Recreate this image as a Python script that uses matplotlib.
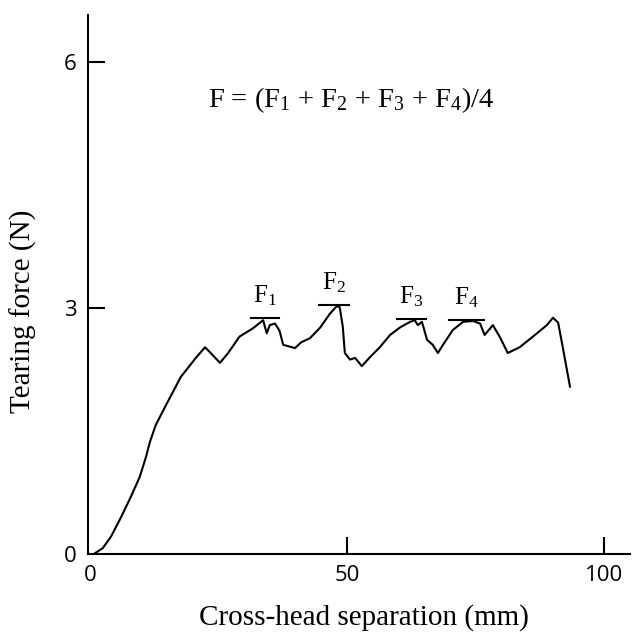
import matplotlib
matplotlib.use("Agg")
import matplotlib.pyplot as plt

# Tearing curve
sep = [0.7, 2.4, 4.0, 5.9, 7.9, 9.6, 10.8, 11.6, 12.7, 14.5, 16.1, 17.6,
       19.0, 20.5, 22.3, 23.4, 25.2, 26.8, 29.0, 31.6, 33.6, 34.3, 34.9,
       35.9, 36.8, 37.5, 39.8, 41.0, 42.7, 44.7, 46.6, 47.9, 48.5, 49.1,
       49.5, 50.5, 51.5, 52.8, 54.4, 56.3, 58.3, 60.2, 62.2, 63.1, 63.7,
       64.5, 65.5, 66.6, 67.6, 68.6, 70.5, 72.5, 74.4, 75.8, 76.7, 78.3,
       79.7, 81.2, 83.5, 86.1, 88.8, 90.0, 91.0, 91.9, 93.3]
force = [0.0, 0.07, 0.21, 0.44, 0.70, 0.94, 1.18, 1.37, 1.57, 1.79, 1.98,
         2.16, 2.27, 2.39, 2.52, 2.45, 2.33, 2.45, 2.65, 2.75, 2.85, 2.69,
         2.79, 2.81, 2.72, 2.55, 2.51, 2.58, 2.63, 2.76, 2.93, 3.02, 3.01,
         2.77, 2.45, 2.37, 2.39, 2.29, 2.40, 2.52, 2.67, 2.76, 2.83, 2.85,
         2.79, 2.83, 2.61, 2.55, 2.45, 2.55, 2.73, 2.83, 2.84, 2.81, 2.67,
         2.79, 2.64, 2.45, 2.52, 2.65, 2.79, 2.88, 2.82, 2.52, 2.04]

# Peak markers F1..F4
peak_labels = ["F$_1$", "F$_2$", "F$_3$", "F$_4$"]
peak_level = [2.88, 3.04, 2.87, 2.85]
peak_start = [31.2, 44.5, 59.6, 69.7]
peak_end = [36.7, 50.3, 65.3, 76.6]

xticks = [0, 50, 100]
yticks = [0, 3, 6]

plt.rcParams["mathtext.fontset"] = "custom"
plt.rcParams["mathtext.rm"] = "Liberation Serif"
plt.rcParams["mathtext.it"] = "Liberation Serif"

fig = plt.figure(figsize=(6.32, 6.33), dpi=100)
ax = fig.add_axes([0.139, 0.125, 0.858, 0.851])

ax.plot(sep, force, color="black", linewidth=1.5)

for lab, lev, x0, x1 in zip(peak_labels, peak_level, peak_start, peak_end):
    ax.plot([x0, x1], [lev, lev], color="black", linewidth=1.5)
    ax.text((x0 + x1) / 2, lev + 0.12, lab, ha="center", va="bottom",
            fontsize=18, family="Liberation Serif")

ax.text(22.8, 5.54, "F = (F$_1$ + F$_2$ + F$_3$ + F$_4$)/4", ha="left",
        va="center", fontsize=20.5, family="Liberation Serif")

ax.set_xlim(-0.5, 105)
ax.set_ylim(0, 6.57)
ax.set_xticks(xticks)
ax.set_yticks(yticks)

for side in ["top", "right"]:
    ax.spines[side].set_visible(False)
for side in ["left", "bottom"]:
    ax.spines[side].set_linewidth(1.5)

ax.tick_params(direction="in", length=12, width=1.5, pad=8,
               labelsize=16)
for lbl in ax.get_xticklabels() + ax.get_yticklabels():
    lbl.set_family("Open Sans")
ax.xaxis.get_major_ticks()[0].tick1line.set_visible(False)
ax.yaxis.get_major_ticks()[0].tick1line.set_visible(False)

ax.set_xlabel("Cross-head separation (mm)", fontsize=21,
              family="Liberation Serif")
ax.xaxis.set_label_coords(0.509, -0.093)
ax.set_ylabel("Tearing force (N)", fontsize=21,
              family="Liberation Serif")
ax.yaxis.set_label_coords(-0.094, 0.451)

fig.savefig("out.png", dpi=100)
